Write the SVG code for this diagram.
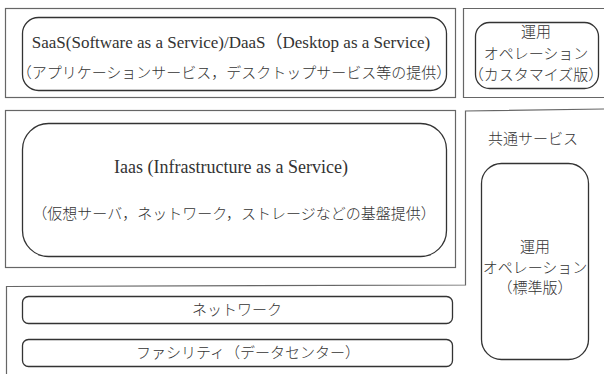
<svg xmlns="http://www.w3.org/2000/svg" width="604" height="374" viewBox="0 0 604 374">
<style>
.frame{fill:none;stroke:#666;stroke-width:1.2}
.node{fill:#fff;stroke:#333;stroke-width:1.3}
text{font-family:"Liberation Serif","Noto Sans CJK JP",serif;font-size:15px;fill:#333;text-anchor:middle;font-weight:300}
.lat{font-size:18px;font-weight:400}
.lat2{font-size:17px;font-weight:400}
</style>
<rect width="604" height="374" fill="#fff"/>
<g id="frames">
<rect class="frame" x="5.5" y="8.5" width="450" height="89"/>
<polyline class="frame" points="604,8.5 463.5,8.5 463.5,97.5 604,97.5"/>
<rect class="frame" x="5.5" y="110.5" width="450" height="157"/>
<polyline class="frame" points="604,109 465.5,111 465.5,285 6.5,286.5 6.5,374"/>
</g>
<g id="saas">
<rect class="node" x="22.5" y="17.5" width="424" height="73" rx="16"/>
<text x="231" y="48" class="lat2">SaaS(Software as a Service)/DaaS（Desktop as a Service)</text>
<text x="234" y="78">（アプリケーションサービス，デスクトップサービス等の提供）</text>
</g>
<g id="ops-custom">
<rect class="node" x="475.5" y="22.5" width="123" height="66" rx="14"/>
<text x="536" y="37">運用</text>
<text x="536" y="59">オペレーション</text>
<text x="536" y="80">（カスタマイズ版）</text>
</g>
<g id="iaas">
<rect class="node" x="22.5" y="123.5" width="424" height="133" rx="26"/>
<text x="231" y="173" class="lat">Iaas (Infrastructure as a Service)</text>
<text x="234" y="219">（仮想サーバ，ネットワーク，ストレージなどの基盤提供）</text>
</g>
<g id="common">
<text x="533" y="144">共通サービス</text>
</g>
<g id="ops-standard">
<rect class="node" x="481.5" y="163.5" width="107" height="196" rx="20"/>
<text x="535" y="252">運用</text>
<text x="535" y="273">オペレーション</text>
<text x="535" y="293">（標準版）</text>
</g>
<g id="network">
<rect class="node" x="22.5" y="296.5" width="430" height="27" rx="6"/>
<text x="237" y="315">ネットワーク</text>
</g>
<g id="facility">
<rect class="node" x="22.5" y="339.5" width="430" height="27" rx="6"/>
<text x="248" y="358">ファシリティ（データセンター）</text>
</g>
<g id="connectors"></g>
</svg>
